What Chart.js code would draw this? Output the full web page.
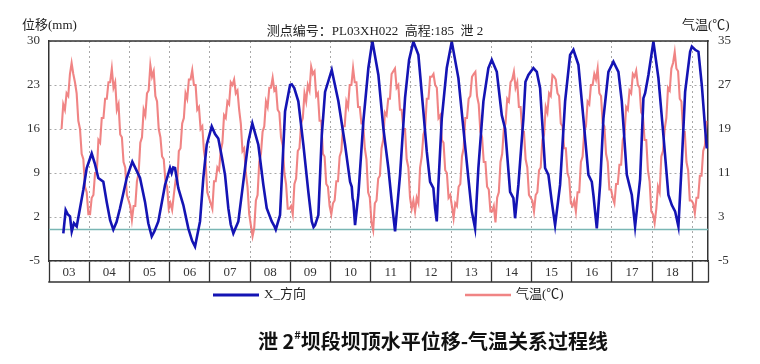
<!DOCTYPE html>
<html><head><meta charset="utf-8">
<script src="https://cdn.jsdelivr.net/npm/chart.js@4/dist/chart.umd.min.js"></script>
<style>html,body{margin:0;padding:0;background:#fff;}#wrap{width:760px;height:364px;position:relative;}</style>
</head><body>
<div id="wrap"><canvas id="c" width="760" height="364"></canvas></div>
<script>
// ---------- data ----------
const yearLabels = ['03','04','05','06','07','08','09','10','11','12','13','14','15','16','17','18'];
const xStart = 2003, xEnd = 2019.39;
const mmTicks = [-5, 2, 9, 16, 23, 30];
const tempTicks = [-5, 3, 11, 19, 27, 35];

// X-direction displacement (mm), decimal-year breakpoints
const dispYear = [2003.356,2003.415,2003.47,2003.522,2003.565,2003.62,2003.689,2003.771,2003.853,2003.938,
 2004.062,2004.14,2004.226,2004.351,2004.435,2004.52,2004.6,2004.68,2004.766,2004.933,
 2005.072,2005.17,2005.264,2005.388,2005.47,2005.555,2005.62,2005.719,2005.886,
 2006.01,2006.05,2006.09,2006.134,2006.216,2006.341,2006.465,2006.56,2006.632,2006.756,2006.838,2006.923,
 2007.047,2007.13,2007.211,2007.3,2007.378,2007.46,2007.52,2007.585,2007.709,2007.833,2007.958,
 2008.057,2008.206,2008.331,2008.415,2008.54,2008.6,2008.64,2008.746,2008.871,2008.995,
 2009.037,2009.1,2009.201,2009.326,2009.45,2009.535,2009.58,2009.617,2009.699,2009.784,2009.866,
 2010.032,2010.197,2010.363,2010.488,2010.53,2010.55,2010.57,2010.612,2010.694,2010.818,2010.943,
 2011.042,2011.192,2011.316,2011.44,2011.525,2011.607,2011.731,2011.856,2011.955,
 2012.062,2012.187,2012.311,2012.396,2012.478,2012.56,2012.602,2012.644,2012.684,2012.769,2012.893,
 2013.017,2013.182,2013.306,2013.43,2013.515,2013.597,2013.679,2013.804,2013.928,
 2014.012,2014.137,2014.261,2014.343,2014.468,2014.55,2014.592,2014.674,2014.799,2014.85,2014.923,
 2015.047,2015.132,2015.214,2015.338,2015.421,2015.505,2015.587,2015.711,2015.836,2015.96,
 2016.042,2016.167,2016.291,2016.416,2016.5,2016.54,2016.624,2016.706,2016.789,2016.913,
 2017.037,2017.162,2017.246,2017.371,2017.453,2017.495,2017.577,2017.701,2017.784,2017.826,2017.908,
 2018.032,2018.157,2018.281,2018.405,2018.49,2018.572,2018.654,2018.739,2018.821,2018.945,2018.988,
 2019.07,2019.152,2019.236,2019.318,2019.36];
const dispMm = [-0.6,3.1,2.4,2.1,-0.3,1.0,0.5,3.4,6.3,9.8,
 12.1,10.5,8.2,7.6,4.4,1.5,0,1.2,3.4,8.2,
 10.8,9.5,8.2,4.4,1.0,-1.1,-0.3,1.3,7.1,
 9.8,9.0,9.9,9.8,6.6,3.9,0.2,-1.8,-2.7,1.3,8.2,13.5,
 16.4,15.2,14.5,11.5,8.7,3.4,0.8,-0.6,1.3,7.6,14,
 16.9,13.5,7.1,3.4,1.3,0.6,0,2.3,18.8,23,
 23.1,22.5,20.4,13.5,6.0,1.3,0.4,0.7,2.3,15,21.9,
 25.4,20.4,13.5,7.6,6.8,5.0,4.4,0.7,5.5,17.2,25.7,
 30,24.6,16.1,9.8,4.4,-0.3,8.7,21,27,
 29.9,27.8,18.8,12.4,7.6,6.6,3.4,1.3,7.1,17.7,25.7,
 29.9,24.1,16.1,8.2,2.9,0.2,9.8,20.4,25.7,
 27,25.1,18.2,16.1,6,5,1.8,7.1,17.7,23.5,24.6,
 25.7,25.1,22.5,9.8,8.7,4.4,0.7,7.1,20.4,27.8,
 28.6,26.2,17.7,8.7,7.6,5.5,0.2,7.1,17.7,25.1,
 26.7,25.1,20.4,8.7,6.6,5.5,0.5,8,20.9,21.7,24.6,
 29.9,24.1,15,5.5,3.9,2.9,0.5,10.8,21.9,28.3,29.1,
 28.6,28.3,23,16.1,12.9];

// Air temperature (°C), one value per half month, starting second half of April 2003
const tempStart = 2003 + 7.5 / 24;
const tempPerYear = 24;
const airTemp = [
 19,23.5,22.5,25.5,25,29,31,29,27.5,25.5,20.5,19,14.5,13.5,8.5,7.5,3.5,               // 2003
 3.5,6.5,7,11,11,17,16.5,21,21,24.5,24.5,27.5,27.5,30,26.5,27.5,22.5,23.5,18,17.5,13,12,7,6, // 2004
 5,2.5,5,5,9.5,11,16.5,17.5,22.5,21.5,25.5,26,30.6,28.5,29.5,25,24,19,17.5,14,13.5,9.5,8.5,4.5, // 2005
 5.5,4.3,7,9.5,9,15,15.5,20,21,25.5,24.5,28,28,29.7,27,27,22.5,23,19,19.5,15,13,7.5,6.5, // 2006
 5.5,4.5,9.5,9.5,12,11.5,15,16.5,21.5,21,24,23.5,27.5,27,28,25.5,26,22.5,20,15,15.5,11,8.5,3.5, // 2007
 1.5,-0.5,1,6,7,13,14.5,18.5,19.5,24,23,26.5,26.5,28.3,26,26.5,22.5,22,17.5,16,11,9,4.5,4.5, // 2008
 5,3.5,9,10,15,15.5,20,21,25.5,24,27,26,30.3,29,29.5,25,25.5,20.5,20.5,14.5,14,9,8.5,5, // 2009
 3.5,5.5,6,9.5,9.5,14,15,19.5,19.5,24,23,27,27,30.1,27.5,27.5,23,23,20,20,15.5,13.5,7.5,6.5, // 2010
 2,0.6,5.5,6,10,10.5,15.5,17,22,21.5,24.5,24.5,29,29.5,30,26.5,27,22.5,22.5,19,19,13.5,12,6.5, // 2011
 4.5,6,4,6.5,5.5,12,14,18,19,24.5,24.5,28.5,28.5,29,27,26.5,21,21.5,17,16.5,11.5,11,6.5,7, // 2012
 5,2.8,5.5,5,8.5,9,14,15.5,21,21,24.5,25,28.5,29,29.4,25,23.5,18.5,17.5,13,13,8.5,8,4, // 2013
 4,5,2,6.5,7.5,13,14.5,19,20,24.5,24,27.5,28,29.4,26.5,27.5,23,23,18.5,18.5,13.5,12,7,6.5, // 2014
 6,4,7,7.5,11.5,12,17,18,23,22,25.5,25,28.8,28.5,28,25.5,25,20,19.5,15.5,15.5,11,10,5.5, // 2015
 5,6,4,7.5,7.5,13,14,18.5,19.5,24,23.5,27,27,29,28,30,25.5,25,20,19.5,14.5,13,8,8, // 2016
 6.5,5.5,9,9,12.5,12.5,17,18,23,22.5,26,25.5,29,28.5,29.6,27,26.5,22,21.5,17,17,11.5,9.5,4, // 2017
 3.5,1.9,4.5,8.5,7.5,14,15,19,21,26.5,26,30,31,33,30,29.5,24.5,24,18.5,18.5,13,11.5,6,6, // 2018
 5.5,3.7,6.5,6.5,10.5,10.5,15,16,20.5                                                   // 2019
];
const zeroLineMm = [0, 0];

// ---------- texts ----------
const topTitle = '测点编号：PL03XH022  高程:185  泄 2';
const leftUnit = '位移(mm)';
const rightUnit = '气温(℃)';
const seriesNames = ['X_方向', '气温(℃)'];
const captionA = '泄 2', captionSup = '#', captionB = '坝段坝顶水平位移-气温关系过程线';

// ---------- build ----------
const dispPts = dispYear.map((t, i) => ({x: t, y: dispMm[i]}));
const tempPts = airTemp.map((v, i) => ({x: tempStart + i / tempPerYear, y: v}));
const zeroPts = [{x: xStart, y: zeroLineMm[0]}, {x: xEnd, y: zeroLineMm[1]}];

const SERIF = '"Liberation Serif", "Noto Sans CJK SC", serif';
const isBoundary = v => Number.isInteger(v) || v === xEnd;
const TRANSP = 'rgba(0,0,0,0)';

const decor = {
  id: 'decor',
  afterDraw(chart) {
    const {ctx, chartArea: a, scales} = chart;
    const xs = scales.x;
    ctx.save();
    ctx.strokeStyle = '#333';
    ctx.lineWidth = 1.5;
    ctx.beginPath();
    ctx.moveTo(a.left - 0.75, a.top); ctx.lineTo(a.right + 0.75, a.top);
    ctx.moveTo(a.left - 0.75, xs.bottom); ctx.lineTo(a.right + 0.75, xs.bottom);
    ctx.stroke();

    ctx.fillStyle = '#222';
    ctx.textBaseline = 'middle';
    ctx.font = '13px ' + SERIF;
    ctx.textAlign = 'left';
    ctx.fillText(leftUnit, 22, 26);
    ctx.fillText(rightUnit, 682, 26);
    ctx.textAlign = 'center';
    ctx.fillText(topTitle, 375, 32);

    // legend
    const ds = chart.data.datasets;
    const items = [{x: 213, tx: 264, d: ds[0]}, {x: 465, tx: 516, d: ds[1]}];
    items.forEach((it, i) => {
      ctx.strokeStyle = it.d.borderColor;
      ctx.lineWidth = i === 0 ? 3 : 2.5;
      ctx.beginPath(); ctx.moveTo(it.x, 295); ctx.lineTo(it.x + 46, 295); ctx.stroke();
      ctx.textAlign = 'left';
      ctx.fillStyle = '#222';
      ctx.font = '13px ' + SERIF;
      ctx.fillText(seriesNames[i], it.tx, 295);
    });

    // caption
    ctx.fillStyle = '#111';
    const fMain = 'bold 20px "Noto Sans CJK SC", sans-serif';
    const fSup = 'bold 11px "Noto Sans CJK SC", sans-serif';
    ctx.font = fMain; const wA = ctx.measureText(captionA).width; const wB = ctx.measureText(captionB).width;
    ctx.font = fSup; const wS = ctx.measureText(captionSup).width;
    let cx = 433 - (wA + wS + wB) / 2;
    ctx.textAlign = 'left';
    ctx.font = fMain; ctx.fillText(captionA, cx, 341); cx += wA;
    ctx.font = fSup; ctx.fillText(captionSup, cx, 335); cx += wS;
    ctx.font = fMain; ctx.fillText(captionB, cx, 341);
    ctx.restore();
  }
};

new Chart(document.getElementById('c'), {
  type: 'line',
  data: {
    datasets: [
      {label: seriesNames[0], data: dispPts, yAxisID: 'y', borderColor: '#1414b4', borderWidth: 2.6, pointRadius: 0, tension: 0},
      {label: seriesNames[1], data: tempPts, yAxisID: 'y1', borderColor: 'rgba(238,115,115,0.88)', borderWidth: 2.1, pointRadius: 0, tension: 0},
      {label: 'zero', data: zeroPts, yAxisID: 'y', borderColor: '#79b6b4', borderWidth: 1.6, pointRadius: 0}
    ]
  },
  options: {
    responsive: false, animation: false, devicePixelRatio: 1,
    layout: {padding: {top: 41, bottom: 82, left: 0, right: 0}},
    plugins: {legend: {display: false}, tooltip: {enabled: false}, title: {display: false}},
    scales: {
      x: {
        type: 'linear', position: 'bottom', min: xStart, max: xEnd,
        afterBuildTicks: s => {
          const t = [];
          for (let i = 0; i < yearLabels.length; i++) { t.push({value: xStart + i}); t.push({value: xStart + i + 0.5}); }
          t.push({value: xStart + yearLabels.length});
          t.push({value: xEnd});
          s.ticks = t;
        },
        afterFit: s => { s.height = 21; },
        ticks: {
          autoSkip: false, maxRotation: 0, minRotation: 0, padding: -17, color: '#333',
          font: {family: SERIF, size: 13},
          callback: v => { const k = v - xStart - 0.5; return Number.isInteger(k) ? yearLabels[k] : ''; }
        },
        grid: {
          color: c => (c.tick && isBoundary(c.tick.value) && c.tick.value !== xStart && c.tick.value !== xEnd) ? '#a8a8a8' : TRANSP,
          tickColor: c => (c.tick && isBoundary(c.tick.value)) ? '#333' : TRANSP,
          tickLength: 21, lineWidth: 1, tickWidth: 1.3, tickBorderDash: []
        },
        border: {display: true, color: '#333', width: 1.5, dash: [2, 3]}
      },
      y: {
        position: 'left', min: mmTicks[0], max: mmTicks[mmTicks.length - 1],
        afterBuildTicks: s => { s.ticks = mmTicks.map(v => ({value: v})); },
        afterFit: s => { s.width = 49; },
        ticks: {padding: 9, color: '#333', font: {family: SERIF, size: 13}},
        grid: {drawTicks: false, color: '#a8a8a8', lineWidth: 1},
        border: {display: true, color: '#333', width: 1.5, dash: [2, 3]}
      },
      y1: {
        position: 'right', min: tempTicks[0], max: tempTicks[tempTicks.length - 1],
        afterBuildTicks: s => { s.ticks = tempTicks.map(v => ({value: v})); },
        afterFit: s => { s.width = 52; },
        ticks: {padding: 10, color: '#333', font: {family: SERIF, size: 13}},
        grid: {drawOnChartArea: false, drawTicks: false},
        border: {display: true, color: '#333', width: 1.5}
      }
    }
  },
  plugins: [decor]
});
</script>
</body></html>
